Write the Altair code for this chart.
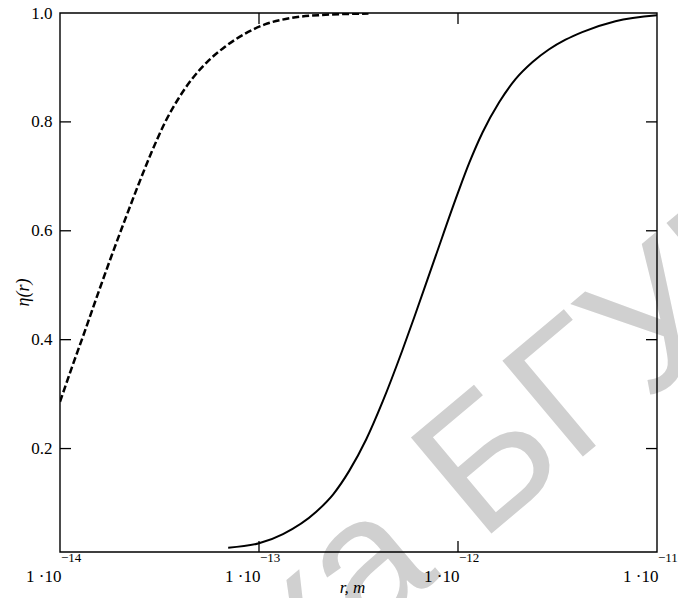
import altair as alt
import pandas as pd

# ---- data ----
solid_r = [7.0e-14, 1.0e-13, 1.32e-13, 1.94e-13, 2.36e-13, 2.84e-13, 3.46e-13,
           4.18e-13, 5.26e-13, 6.12e-13, 7.71e-13, 1.0e-12, 1.14e-12, 1.33e-12,
           1.61e-12, 1.95e-12, 2.37e-12, 2.86e-12, 3.47e-12, 4.21e-12, 6.18e-12,
           1.0e-11]
solid_eta = [0.018, 0.026, 0.043, 0.084, 0.116, 0.159, 0.217,
             0.286, 0.381, 0.448, 0.553, 0.670, 0.725, 0.781,
             0.836, 0.879, 0.910, 0.933, 0.951, 0.965, 0.985,
             0.996]

dashed_r = [1.0e-14, 1.15e-14, 1.34e-14, 1.56e-14, 1.82e-14, 2.12e-14, 2.48e-14,
            2.89e-14, 3.37e-14, 3.94e-14, 4.59e-14, 5.56e-14, 6.75e-14, 8.51e-14,
            1.07e-13, 1.46e-13, 1.99e-13, 3.55e-13]
dashed_eta = [0.286, 0.350, 0.418, 0.487, 0.555, 0.620, 0.685,
              0.745, 0.799, 0.843, 0.878, 0.912, 0.938, 0.962,
              0.979, 0.991, 0.996, 0.999]

x_tick_values = [1e-14, 1e-13, 1e-12, 1e-11]
x_tick_exponents = ["\u221214", "\u221213", "\u221212", "\u221211"]
y_tick_values = [0.2, 0.4, 0.6, 0.8, 1.0]
inner_x_ticks = [1e-13, 1e-12]
inner_y_ticks = [0.2, 0.4, 0.6, 0.8]

W, H = 597, 539
FONT = "Liberation Serif"

solid_df = pd.DataFrame({"r": solid_r, "eta": solid_eta})
dashed_df = pd.DataFrame({"r": dashed_r, "eta": dashed_eta})
exp_df = pd.DataFrame({"r": x_tick_values, "e": x_tick_exponents})
xt_df = pd.DataFrame({"r": inner_x_ticks})
yt_df = pd.DataFrame({"eta": inner_y_ticks})
one_df = pd.DataFrame({"k": [0]})
wm1_df = pd.DataFrame({"t": ["БГУИР"]})
wm2_df = pd.DataFrame({"t": ["Библиотека"]})

xscale = alt.Scale(type="log", domain=[1e-14, 1e-11], nice=False)
yscale = alt.Scale(domain=[0.01, 1.0], nice=False, zero=False)

x_axis = alt.Axis(values=x_tick_values, labelExpr="'1 \u00b710'", labelAlign="right",
                  labelOffset=1, labelBaseline="middle", labelPadding=24,
                  labelFont=FONT, labelFontSize=17, labelColor="black",
                  labelFlush=False, labelOverlap=False, labelBound=False,
                  ticks=False, domain=False, grid=False, zindex=1,
                  title="r, m", titleFont=FONT, titleFontStyle="italic",
                  titleFontWeight="normal", titleFontSize=17, titleColor="black",
                  titleX=292, titleY=40, titleAlign="center",
                  titleBaseline="alphabetic")
y_axis = alt.Axis(values=y_tick_values, format=".1f", labelPadding=8,
                  labelFont=FONT, labelFontSize=17, labelColor="black",
                  labelFlush=True, labelFlushOffset=5, labelOverlap=False,
                  labelBaseline="middle",
                  ticks=False, domain=False, grid=False, zindex=1,
                  title="η(r)", titleFont=FONT, titleFontStyle="italic",
                  titleFontWeight="normal", titleFontSize=18, titleColor="black",
                  titleAngle=270, titleX=-37, titleY=279, titleAlign="center",
                  titleBaseline="middle")

wm_color = "#d0d0d0"
wm1 = alt.Chart(wm1_df).mark_text(font="Liberation Sans", fontSize=182, angle=320,
                                  align="left", baseline="alphabetic",
                                  color=wm_color).encode(
    x=alt.value(420), y=alt.value(530), text="t:N")
wm2 = alt.Chart(wm2_df).mark_text(font="Liberation Sans", fontSize=182, angle=320,
                                  align="right", baseline="alphabetic", dx=-50,
                                  color=wm_color).encode(
    x=alt.value(420), y=alt.value(530), text="t:N")

solid = alt.Chart(solid_df).mark_line(color="black", strokeWidth=2,
                                      interpolate="monotone", clip=True).encode(
    x=alt.X("r:Q", scale=xscale, axis=x_axis),
    y=alt.Y("eta:Q", scale=yscale, axis=y_axis))
dashed = alt.Chart(dashed_df).mark_line(color="black", strokeWidth=2.5,
                                        strokeDash=[7, 3], interpolate="monotone",
                                        clip=True).encode(
    x=alt.X("r:Q", scale=xscale),
    y=alt.Y("eta:Q", scale=yscale))

tick_style = dict(color="black", strokeWidth=1.3)
ticks_left = alt.Chart(yt_df).mark_rule(**tick_style).encode(
    y=alt.Y("eta:Q", scale=yscale), x=alt.value(0), x2=alt.value(11))
ticks_right = alt.Chart(yt_df).mark_rule(**tick_style).encode(
    y=alt.Y("eta:Q", scale=yscale), x=alt.value(W - 11), x2=alt.value(W))
ticks_bottom = alt.Chart(xt_df).mark_rule(**tick_style).encode(
    x=alt.X("r:Q", scale=xscale), y=alt.value(H - 11), y2=alt.value(H))
ticks_top = alt.Chart(xt_df).mark_rule(**tick_style).encode(
    x=alt.X("r:Q", scale=xscale), y=alt.value(0), y2=alt.value(11))

border = alt.Chart(one_df).mark_rect(fillOpacity=0, stroke="black",
                                     strokeWidth=1.4).encode(
    x=alt.value(0), x2=alt.value(W), y=alt.value(0), y2=alt.value(H))

exps = alt.Chart(exp_df).mark_text(font=FONT, fontSize=13, align="left",
                                   baseline="middle", dx=1, color="black").encode(
    x=alt.X("r:Q", scale=xscale), y=alt.value(H + 6), text="e:N")

chart = alt.layer(
    wm1, wm2, solid, dashed, ticks_left, ticks_right, ticks_bottom, ticks_top,
    border, exps
).properties(
    width=W, height=H,
    padding={"left": 52, "top": 5, "right": 21, "bottom": 46},
    autosize=alt.AutoSizeParams(type="none"),
    background="white",
).configure_view(stroke=None)

chart.save("out.html", embed_options={"renderer": "svg", "actions": False})
